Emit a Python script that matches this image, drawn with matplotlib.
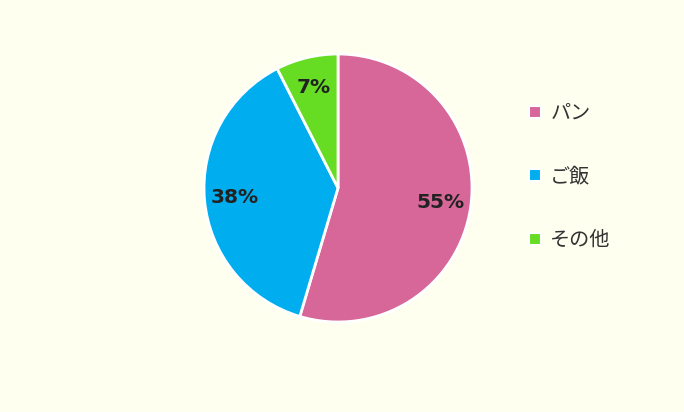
import matplotlib.pyplot as plt
from matplotlib.lines import Line2D

plt.rcParams['font.family'] = ['Noto Sans CJK JP', 'DejaVu Sans']

labels = ["パン", "ご飯", "その他"]
values = [54.6, 37.9, 7.5]
pct_labels = ["55%", "38%", "7%"]
colors = ["#D66798", "#00AEEF", "#66DD22"]

fig = plt.figure(figsize=(6.84, 4.12), dpi=100)
fig.patch.set_facecolor("#FFFFF0")

# pie area: center ~ (338, 188), radius ~134 px
ax = fig.add_axes([(338 - 134) / 684, 1 - (188 + 134) / 412, 268 / 684, 268 / 412])
ax.set_facecolor("#FFFFF0")

wedges, texts = ax.pie(values, colors=colors, startangle=90, counterclock=False,
                       labels=pct_labels, labeldistance=0.77,
                       wedgeprops=dict(edgecolor="white", linewidth=2))
for t in texts:
    t.set_fontsize(14.5)
    t.set_fontweight("bold")
    t.set_color("#222222")
    t.set_family("DejaVu Sans")
    t.set_horizontalalignment("center")
    t.set_verticalalignment("center")
ax.set_xlim(-1.0, 1.0)
ax.set_ylim(-1.0, 1.0)
ax.set_aspect("equal")

handles = [Line2D([], [], marker="s", linestyle="none", markersize=9,
                  markerfacecolor=c, markeredgecolor="white", markeredgewidth=1.5)
           for c in colors]
leg = fig.legend(handles, labels, loc="upper left", bbox_to_anchor=(519 / 684, 1 - 95 / 412),
                 frameon=False, fontsize=14.5, labelspacing=2.1, handlelength=0.8,
                 handletextpad=0.35, borderaxespad=0)
for t in leg.get_texts():
    t.set_color("#333333")

fig.savefig("out.png", dpi=100, facecolor=fig.get_facecolor())
